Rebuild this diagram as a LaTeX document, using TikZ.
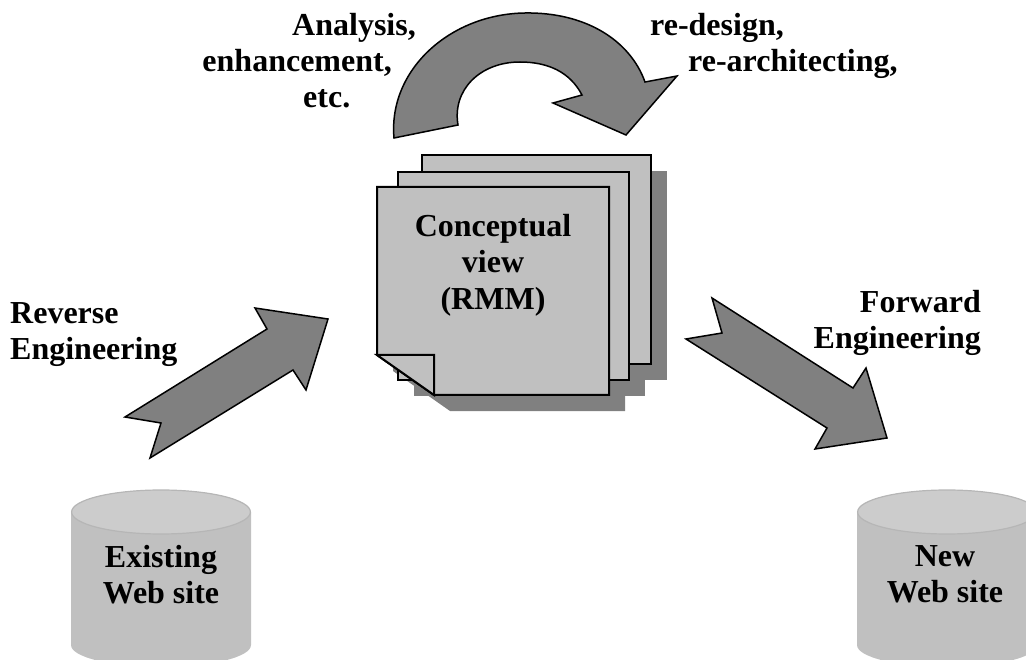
\documentclass[tikz,border=0pt]{standalone}
\usepackage{fontspec}
\setmainfont{Liberation Serif}
\definecolor{pagegray}{HTML}{C0C0C0}
\definecolor{darkgray}{HTML}{808080}
\definecolor{captop}{HTML}{CCCCCC}
\definecolor{caprim}{HTML}{B6B6B6}
\begin{document}
\begin{tikzpicture}[x=1pt,y=-1pt,
  lbl/.style={font=\fontsize{32}{36.5}\selectfont\bfseries, inner sep=0pt},
  bigarrow/.style={fill=darkgray, draw=black, line width=1.5pt, line join=miter},
  sheet/.style={fill=pagegray, draw=black, line width=2pt, line join=miter},
  sheetshadow/.style={fill=darkgray},
  drumbody/.style={fill=pagegray},
  drumtop/.style={fill=captop, draw=caprim, line width=1.2pt}]
\clip (0,0) rectangle (1026,660);

% ---- stacked sheets: shadows first, then sheets back to front
\begin{scope}[shift={(16,16)}]
  \fill[sheetshadow] (422,155) rectangle (651,364);
  \fill[sheetshadow] (398,172) rectangle (629,380);
  \fill[sheetshadow] (377,187) -- (609,187) -- (609,395) -- (434,395) -- (377,355) -- cycle;
\end{scope}
\draw[sheet] (422,155) rectangle (651,364);
\draw[sheet] (398,172) rectangle (629,380);
\draw[sheet] (377,187) -- (609,187) -- (609,395) -- (434,395) -- (377,355) -- cycle;
\draw[sheet] (377,355) -- (434,355) -- (434,395) -- cycle;
\node[lbl, align=center, anchor=north] (concept) at (493,214) {Conceptual\\view\\(RMM)};

% ---- curved arrow above the sheets
\draw[bigarrow] (394,138) .. controls (388,70) and (450,14) .. (525,13)
  .. controls (585,12) and (630,40) .. (645,82)
  -- (677,76) -- (626,135) -- (553,103) -- (582,95)
  .. controls (570,72) and (548,62) .. (520,62)
  .. controls (480,62) and (452,90) .. (458,125) -- cycle;
\node[lbl, anchor=base east] (analysis) at (416,36) {Analysis,};
\node[lbl, anchor=base east] (enhance) at (392,72) {enhancement,};
\node[lbl, anchor=base west] (etc) at (303,108) {etc.};
\node[lbl, anchor=base west] (redesign) at (650,36) {re-design,};
\node[lbl, anchor=base west] (rearch) at (688,72) {re-architecting,};

% ---- straight arrows
\draw[bigarrow] (125,417) -- (161,423) -- (150,458) -- (293,370) -- (306,390)
  -- (328,319) -- (255,308) -- (267,329) -- cycle;
\draw[bigarrow] (712,298) -- (853,388) -- (866,368) -- (887,438) -- (815,449)
  -- (827,428) -- (686,339) -- (722,333) -- cycle;
\node[lbl, align=left, anchor=north west] (reverse) at (10,302) {Reverse\\Engineering};
\node[lbl, align=right, anchor=north east] (forward) at (981,290) {Forward\\Engineering};

% ---- web site drums
\fill[drumbody] (71,512) -- (71,645) arc[start angle=180, end angle=0, x radius=90, y radius=22]
  -- (251,512) -- cycle;
\draw[drumtop] (161,512) ellipse[x radius=89.4, y radius=22];
\node[lbl, align=center, anchor=north] (existing) at (161,545) {Existing\\Web site};

\fill[drumbody] (857,512) -- (857,645) arc[start angle=180, end angle=0, x radius=90, y radius=22]
  -- (1037,512) -- cycle;
\draw[drumtop] (947,512) ellipse[x radius=89.4, y radius=22];
\node[lbl, align=center, anchor=north] (newsite) at (945,545) {New\\Web site};
\end{tikzpicture}
\end{document}
